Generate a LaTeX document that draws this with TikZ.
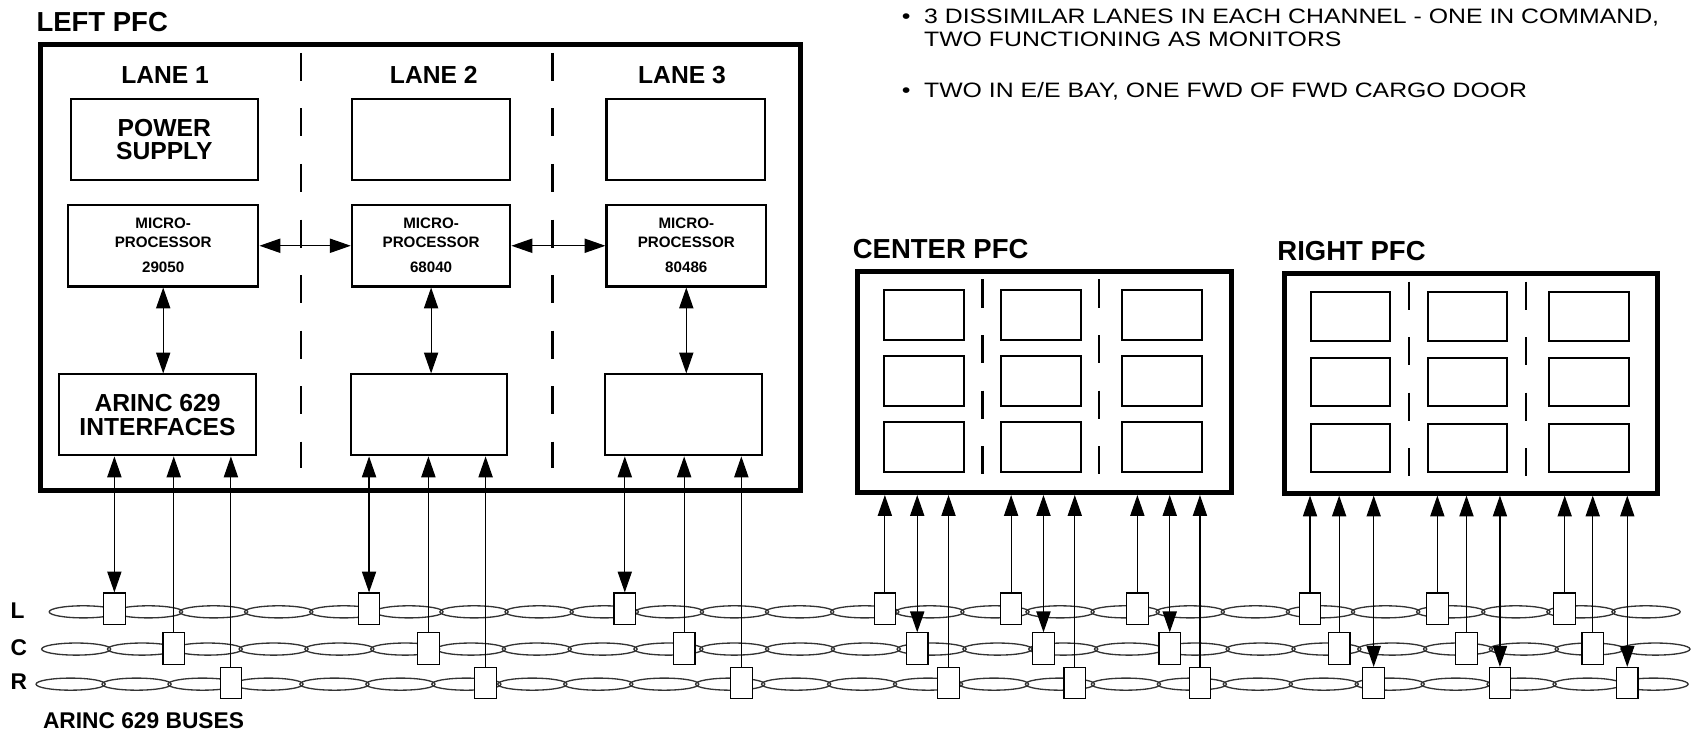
\documentclass[tikz,border=0pt]{standalone}
\usepackage{fontspec}
\setmainfont{Liberation Sans}
\usepackage{tikz}
\usetikzlibrary{arrows.meta,positioning,calc}

\begin{document}
\begin{tikzpicture}[x=0.02cm,y=-0.02cm,>={Triangle[length=11pt,width=7.5pt]},
  pfc/.style={draw,line width=2.6pt,inner sep=0pt},
  unit/.style={draw,line width=1.1pt,inner sep=0pt,align=center,
               font=\bfseries\fontsize{13}{12}\selectfont},
  cpu/.style={unit,font=\bfseries\fontsize{8}{9.5}\selectfont},
  cell/.style={draw,line width=1.1pt,inner sep=0pt},
  tap/.style={draw,fill=white,line width=0.6pt,inner sep=0pt,
              minimum width=0.4cm,minimum height=0.58cm},
  link/.style={line width=0.6pt},
  bus/.style={draw=black!80,line width=0.7pt},
  lanesep/.style={line width=1.1pt,dash pattern=on 14.8pt off 14.5pt},
  title/.style={font=\bfseries\fontsize{14.5}{16}\selectfont,anchor=base west,inner sep=0pt},
  lane/.style={font=\bfseries\fontsize{13}{15}\selectfont,anchor=base,inner sep=0pt},
  busname/.style={font=\bfseries\fontsize{12}{14}\selectfont,anchor=base west,inner sep=0pt},
  note/.style={font=\fontsize{11}{12}\selectfont,xscale=1.19,anchor=base west,inner sep=0pt}]

  \useasboundingbox (0,0) rectangle (1568,679);

  % notes
  \node[note] (note1) at (856,22) {\llap{\textbullet\hspace{6pt}}3 DISSIMILAR LANES IN EACH CHANNEL - ONE IN COMMAND,};
  \node[note] (note1b) at (856,43) {TWO FUNCTIONING AS MONITORS};
  \node[note] (note2) at (856,90) {\llap{\textbullet\hspace{6pt}}TWO IN E/E BAY, ONE FWD OF FWD CARGO DOOR};

  % ARINC 629 buses
  \foreach \y/\x/\p/\rx in {567/77.25/60.34/0.633,601.5/70.6/60.98/0.64,634/65.46/61.12/0.641}
    \foreach \k in {0,...,24}
      \draw[bus] ({\x+\p*\k},\y) ellipse [x radius=\rx cm,y radius=0.112cm];

  \node[busname] (busL) at (9.5,573) {L};
  \node[busname] (busC) at (9.5,607) {C};
  \node[busname] (busR) at (9.5,638.5) {R};
  \node[busname] (buses) at (39.5,675) {ARINC 629 BUSES};

  \foreach \n/\xl/\xc/\xr in {1/106/161/214,2/342/397/450,3/579/634/687,
                              4/820/850/879,5/937/967/996,6/1054/1084/1112,
                              7/1214/1241/1273,8/1332/1359/1390,9/1450/1476/1508} {
    \node[tap] (tapL\n) at (\xl,564) {};
    \node[tap] (tapC\n) at (\xc,601) {};
    \node[tap] (tapR\n) at (\xr,633) {};
  }

  % left PFC
  \node[title] (ltitle) at (33.5,29.4) {LEFT PFC};
  \node[pfc,minimum width=14.09cm,minimum height=8.28cm] (lpfc) at (389.75,248) {};
  \draw[lanesep] (279,49) -- (279,434);
  \draw[lanesep] (512,49) -- (512,434);

  \node[lane] (lane1) at (153,77.2) {LANE 1};
  \node[lane] (lane2) at (402,77.2) {LANE 2};
  \node[lane] (lane3) at (632,77.2) {LANE 3};

  \node[unit,minimum width=3.47cm,minimum height=1.51cm] (ps1) at (152.25,129.25) {POWER\\SUPPLY};
  \node[unit,minimum width=2.94cm,minimum height=1.51cm] (ps2) at (399.5,129.25) {};
  \node[unit,minimum width=2.94cm,minimum height=1.51cm] (ps3) at (635.5,129.25) {};

  \node[cpu,minimum width=3.53cm,minimum height=1.51cm] (mp1) at (151.25,227.75) {MICRO-\\PROCESSOR\\[4.2pt]29050};
  \node[cpu,minimum width=2.94cm,minimum height=1.51cm] (mp2) at (399.5,227.75) {MICRO-\\PROCESSOR\\[4.2pt]68040};
  \node[cpu,minimum width=2.96cm,minimum height=1.51cm] (mp3) at (636,227.75) {MICRO-\\PROCESSOR\\[4.2pt]80486};

  \node[unit,font=\bfseries\fontsize{13}{13}\selectfont,minimum width=3.64cm,minimum height=1.5cm] (ifc1) at (146,384.5) {ARINC 629\\INTERFACES};
  \node[unit,minimum width=2.9cm,minimum height=1.5cm] (ifc2) at (397.5,384.5) {};
  \node[unit,minimum width=2.9cm,minimum height=1.5cm] (ifc3) at (633.5,384.5) {};

  \draw[link,<->] (mp1.east) -- (mp2.west);
  \draw[link,<->] (mp2.east) -- (mp3.west);
  \foreach \n in {1,2,3} {
    \draw[link,<->] (mp\n.south) -- (mp\n.south |- ifc\n.north);
    \draw[link,<->] (ifc\n.south -| tapL\n) -- (tapL\n.north);
    \draw[link,->] (tapC\n.north) -- (ifc\n.south -| tapC\n);
    \draw[link,->] (tapR\n.north) -- (ifc\n.south -| tapR\n);
  }

  % center PFC
  \node[title] (ctitle) at (790,239.4) {CENTER PFC};
  \node[pfc,minimum width=6.93cm,minimum height=4.09cm] (cpfc) at (967.75,354.25) {};
  \draw[lanesep] (910.5,259) -- (910.5,440);
  \draw[lanesep] (1018.5,259) -- (1018.5,440);
  \foreach \c/\x in {1/856,2/965,3/1077}
    \foreach \r/\y in {1/292,2/353,3/414}
      \node[cell,minimum width=1.48cm,minimum height=0.92cm] (cc\c\r) at (\x,\y) {};
  \foreach \n in {4,5,6} {
    \draw[link,->] (tapL\n.north) -- (tapL\n |- cpfc.south);
    \draw[link,<->] (tapC\n |- cpfc.south) -- (tapC\n.north);
    \draw[link,->] (tapR\n.north) -- (tapR\n |- cpfc.south);
  }

  % right PFC
  \node[title] (rtitle) at (1183.5,241) {RIGHT PFC};
  \node[pfc,minimum width=6.91cm,minimum height=4.07cm] (rpfc) at (1363.25,355.25) {};
  \draw[lanesep] (1306,261) -- (1306,442);
  \draw[lanesep] (1414,261) -- (1414,442);
  \foreach \c/\x in {1/1251.5,2/1360,3/1472.5}
    \foreach \r/\y in {1/293.5,2/354,3/415}
      \node[cell,minimum width=1.47cm,minimum height=0.9cm] (rc\c\r) at (\x,\y) {};
  \foreach \n in {7,8,9} {
    \draw[link,->] (tapL\n.north) -- (tapL\n |- rpfc.south);
    \draw[link,->] (tapC\n.north) -- (tapC\n |- rpfc.south);
    \draw[link,<->] (tapR\n |- rpfc.south) -- (tapR\n.north);
  }
\end{tikzpicture}
\end{document}
